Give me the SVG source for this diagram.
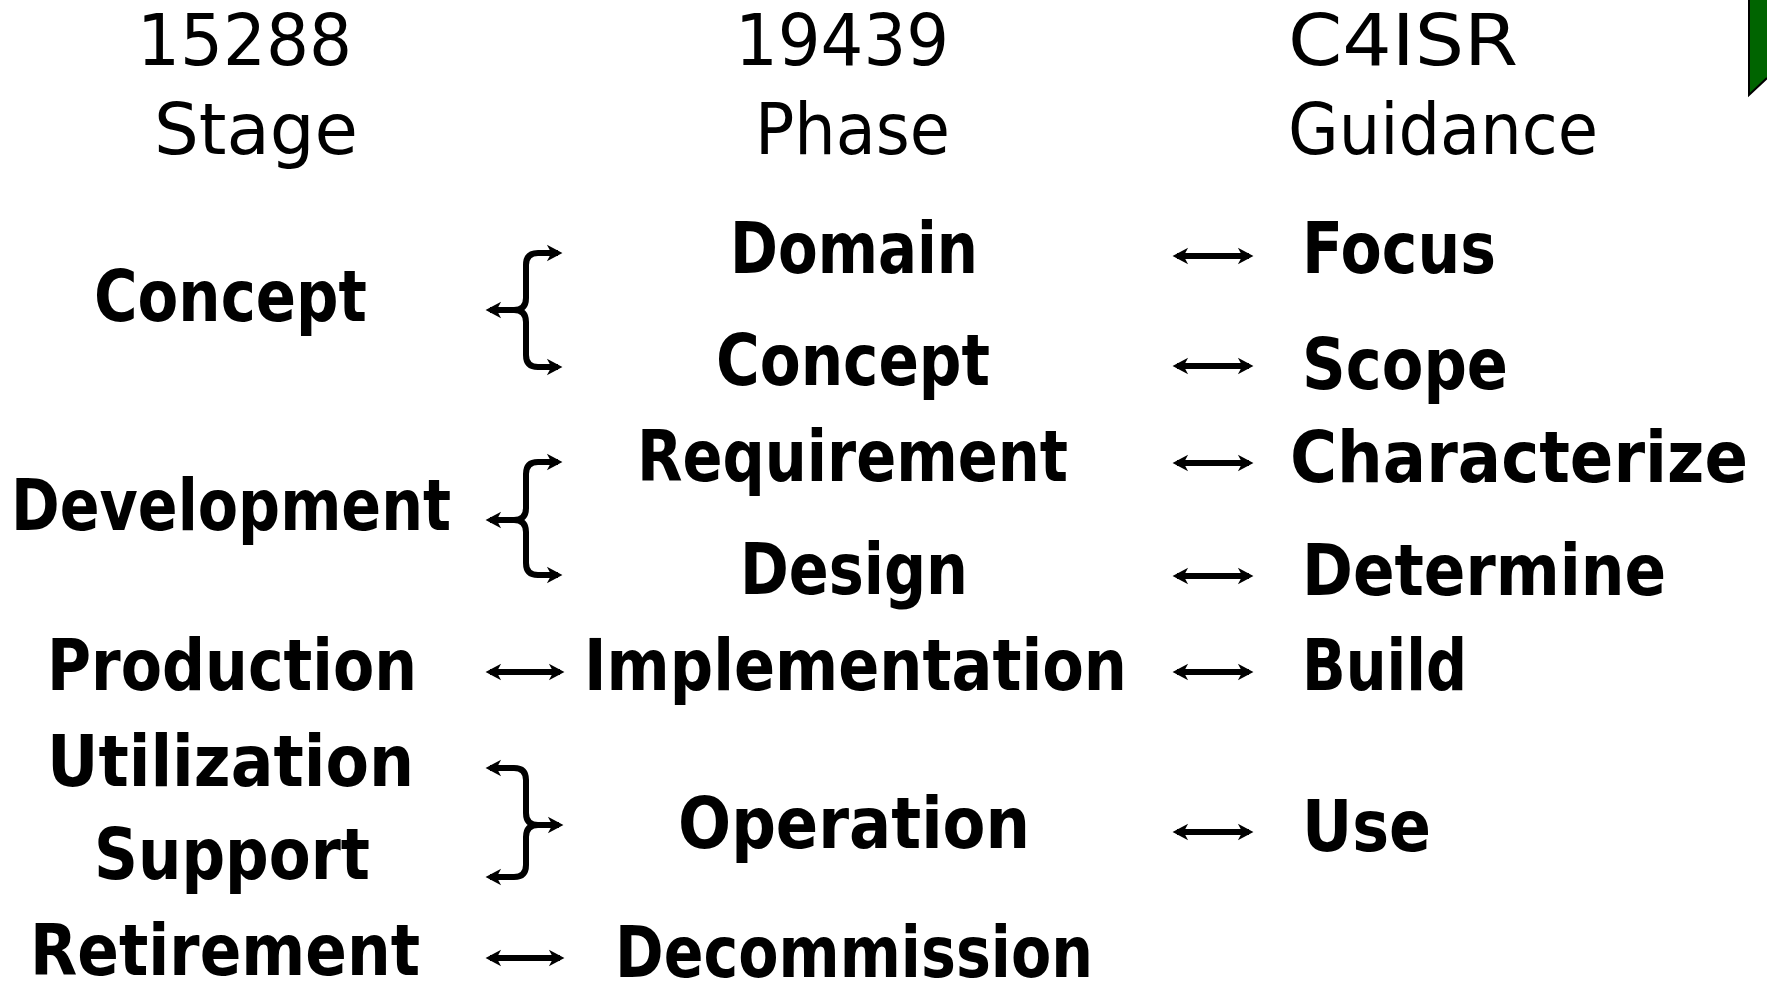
<svg xmlns="http://www.w3.org/2000/svg" width="1767" height="986" viewBox="0 0 1767 986">
  <style>
    .hd { font-family: "DejaVu Sans Condensed", "DejaVu Sans", sans-serif; font-size: 72px; fill: #000; }
    .lb { font-family: "DejaVu Sans", sans-serif; font-weight: bold; font-size: 72px; fill: #000; }
    .cn { fill: none; stroke: #000; stroke-width: 6; stroke-linecap: butt; stroke-linejoin: round; }
  </style>
  <defs>
    <marker id="head" markerUnits="userSpaceOnUse" markerWidth="20" markerHeight="20" viewBox="-12 -8 18 16" refX="0" refY="0" orient="auto-start-reverse">
      <path d="M4,0 L-10,-7.5 L-6,0 L-10,7.5 Z" fill="#000"/>
    </marker>
  </defs>
  <rect width="1767" height="986" fill="#fff"/>

  <!-- corner tab -->
  <polygon points="1749,0 1767,0 1767,78 1749,95" fill="#006400"/>
  <polyline points="1749,0 1749,95 1767,78" fill="none" stroke="#000" stroke-width="2"/>

  <!-- column headers -->
  <g id="hdr-15288"><text class="hd" x="137" y="65" textLength="215" lengthAdjust="spacingAndGlyphs">15288</text></g>
  <g id="hdr-stage"><text class="hd" x="154" y="154" textLength="204" lengthAdjust="spacingAndGlyphs">Stage</text></g>
  <g id="hdr-19439"><text class="hd" x="735" y="65" textLength="214" lengthAdjust="spacingAndGlyphs">19439</text></g>
  <g id="hdr-phase"><text class="hd" x="755" y="154" textLength="195" lengthAdjust="spacingAndGlyphs">Phase</text></g>
  <g id="hdr-c4isr"><text class="hd" x="1288" y="65" textLength="230" lengthAdjust="spacingAndGlyphs">C4ISR</text></g>
  <g id="hdr-guidance"><text class="hd" x="1288" y="154" textLength="310" lengthAdjust="spacingAndGlyphs">Guidance</text></g>

  <!-- stages -->
  <g id="stage-concept"><text class="lb" x="94" y="321" textLength="273" lengthAdjust="spacingAndGlyphs">Concept</text></g>
  <g id="stage-development"><text class="lb" x="11" y="530" textLength="440" lengthAdjust="spacingAndGlyphs">Development</text></g>
  <g id="stage-production"><text class="lb" x="47" y="690" textLength="370" lengthAdjust="spacingAndGlyphs">Production</text></g>
  <g id="stage-utilization"><text class="lb" x="47" y="786" textLength="367" lengthAdjust="spacingAndGlyphs">Utilization</text></g>
  <g id="stage-support"><text class="lb" x="94" y="879" textLength="276" lengthAdjust="spacingAndGlyphs">Support</text></g>
  <g id="stage-retirement"><text class="lb" x="30" y="975" textLength="390" lengthAdjust="spacingAndGlyphs">Retirement</text></g>

  <!-- phases -->
  <g id="phase-domain"><text class="lb" x="730" y="273" textLength="248" lengthAdjust="spacingAndGlyphs">Domain</text></g>
  <g id="phase-concept"><text class="lb" x="716" y="385" textLength="274" lengthAdjust="spacingAndGlyphs">Concept</text></g>
  <g id="phase-requirement"><text class="lb" x="637" y="481" textLength="431" lengthAdjust="spacingAndGlyphs">Requirement</text></g>
  <g id="phase-design"><text class="lb" x="740" y="594" textLength="228" lengthAdjust="spacingAndGlyphs">Design</text></g>
  <g id="phase-implementation"><text class="lb" x="584" y="690" textLength="543" lengthAdjust="spacingAndGlyphs">Implementation</text></g>
  <g id="phase-operation"><text class="lb" x="678" y="848" textLength="352" lengthAdjust="spacingAndGlyphs">Operation</text></g>
  <g id="phase-decommission"><text class="lb" x="615" y="977" textLength="478" lengthAdjust="spacingAndGlyphs">Decommission</text></g>

  <!-- guidance -->
  <g id="guide-focus"><text class="lb" x="1302" y="273" textLength="194" lengthAdjust="spacingAndGlyphs">Focus</text></g>
  <g id="guide-scope"><text class="lb" x="1302" y="389" textLength="206" lengthAdjust="spacingAndGlyphs">Scope</text></g>
  <g id="guide-characterize"><text class="lb" x="1290" y="482" textLength="458" lengthAdjust="spacingAndGlyphs">Characterize</text></g>
  <g id="guide-determine"><text class="lb" x="1302" y="595" textLength="364" lengthAdjust="spacingAndGlyphs">Determine</text></g>
  <g id="guide-build"><text class="lb" x="1302" y="690" textLength="165" lengthAdjust="spacingAndGlyphs">Build</text></g>
  <g id="guide-use"><text class="lb" x="1302" y="851" textLength="129" lengthAdjust="spacingAndGlyphs">Use</text></g>

  <!-- connectors -->
  <g id="connectors" class="cn">
    <!-- stage-to-phase braces -->
    <path d="M490,310 H514 Q526,310 526,298 V265 Q526,253 538,253 H558" marker-start="url(#head)" marker-end="url(#head)"/>
    <path d="M514,310 Q526,310 526,322 V355 Q526,367 538,367 H558" marker-end="url(#head)"/>
    <path d="M490,520 H514 Q526,520 526,508 V474 Q526,462 538,462 H558" marker-start="url(#head)" marker-end="url(#head)"/>
    <path d="M514,520 Q526,520 526,532 V563 Q526,575 538,575 H558" marker-end="url(#head)"/>
    <path d="M490,768 H514 Q526,768 526,780 V813 Q526,825 538,825 H559" marker-start="url(#head)" marker-end="url(#head)"/>
    <path d="M490,877 H514 Q526,877 526,865 V837 Q526,825 538,825" marker-start="url(#head)"/>
    <path d="M490,672 H560" marker-start="url(#head)" marker-end="url(#head)"/>
    <path d="M490,958 H560" marker-start="url(#head)" marker-end="url(#head)"/>
    <!-- phase-to-guidance arrows -->
    <path d="M1177,256 H1249" marker-start="url(#head)" marker-end="url(#head)"/>
    <path d="M1177,366 H1249" marker-start="url(#head)" marker-end="url(#head)"/>
    <path d="M1177,463 H1249" marker-start="url(#head)" marker-end="url(#head)"/>
    <path d="M1177,576 H1249" marker-start="url(#head)" marker-end="url(#head)"/>
    <path d="M1177,672 H1249" marker-start="url(#head)" marker-end="url(#head)"/>
    <path d="M1177,832 H1249" marker-start="url(#head)" marker-end="url(#head)"/>
  </g>
</svg>
